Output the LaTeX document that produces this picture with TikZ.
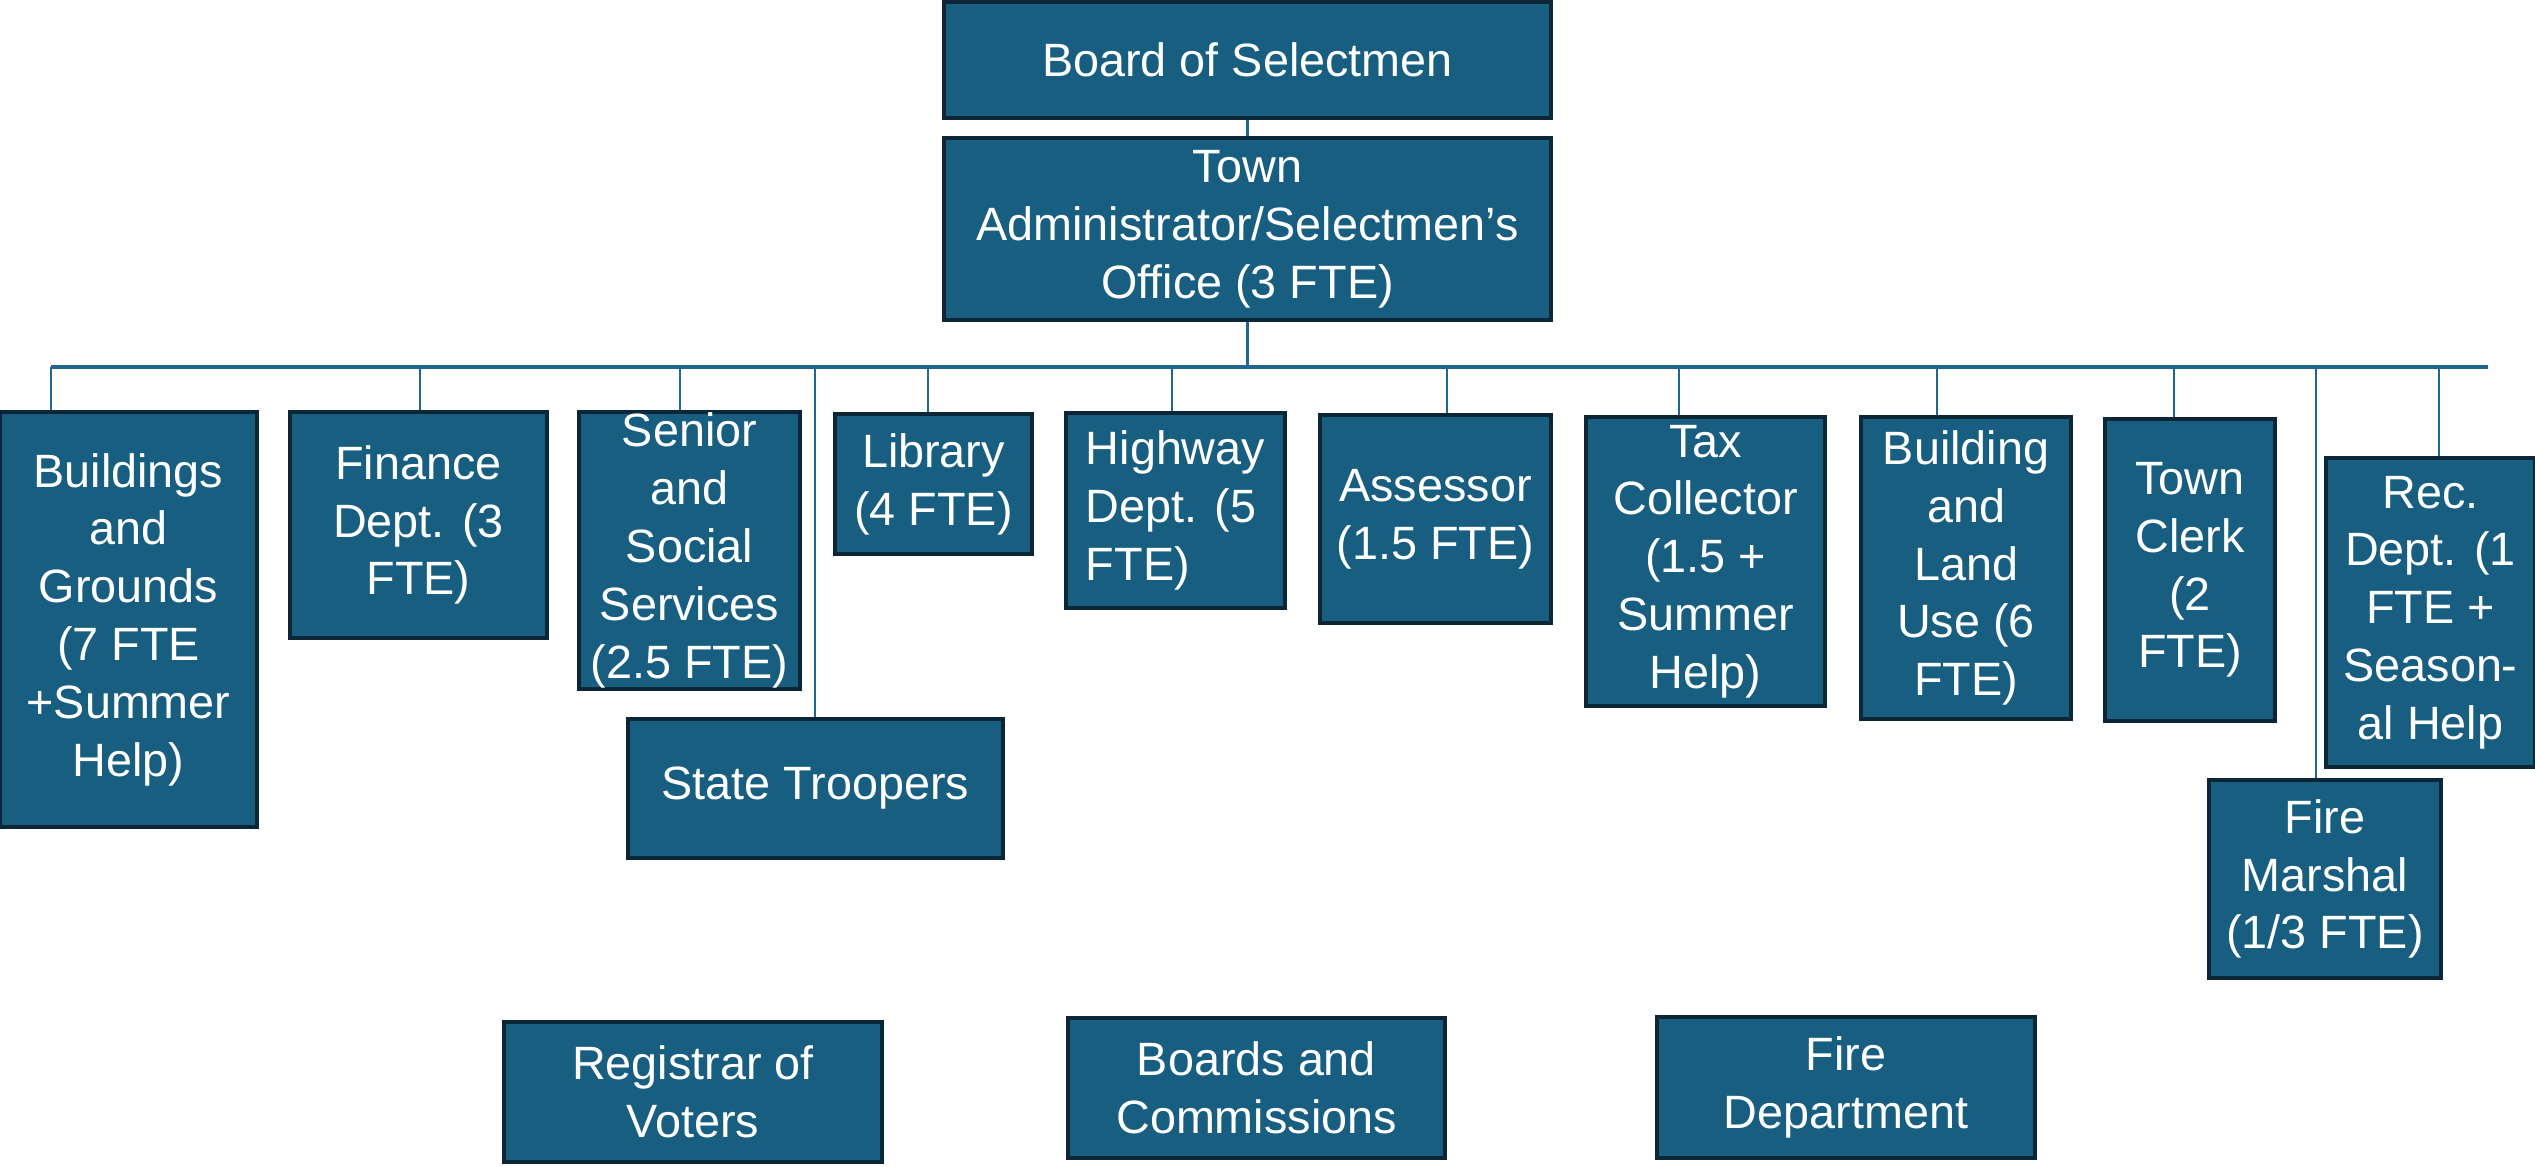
\documentclass[tikz,border=0pt]{standalone}
\usepackage{fontspec}
\setmainfont{Liberation Sans}
\definecolor{boxfill}{HTML}{175E80}
\definecolor{boxline}{HTML}{0B2636}
\definecolor{wirecol}{HTML}{1F6690}

\begin{document}
\begin{tikzpicture}
  [unit/.style={draw=boxline,fill=boxfill,text=white,line width=1.3pt,align=center,
    inner sep=0pt,font=\fontsize{13.3}{16.45}\selectfont},
  wire/.style={draw=wirecol,line width=0.8pt},
  bus/.style={draw=wirecol,line width=1.4pt}]
  \useasboundingbox (0,0) rectangle (25.35,-11.67);

  \node[unit,minimum width=6.07cm,minimum height=1.16cm] (board) at (12.475,-0.60) {Board of Selectmen};
  \node[unit,minimum width=6.07cm,minimum height=1.82cm] (admin) at (12.475,-2.29) {Town\\Administrator/Selectmen’s\\Office (3 FTE)};

  \node[unit,minimum width=2.57cm,minimum height=4.15cm] (bg) at (1.285,-6.195) {Buildings\\and\\Grounds\\(7 FTE\\+Summer\\Help)};
  \node[unit,minimum width=2.57cm,minimum height=2.26cm] (fin) at (4.185,-5.25) {Finance\\Dept. (3\\FTE)};
  \node[unit,minimum width=2.21cm,minimum height=2.77cm] (senior) at (6.895,-5.505) {Senior\\and\\Social\\Services\\(2.5 FTE)};
  \node[unit,minimum width=1.97cm,minimum height=1.40cm] (lib) at (9.335,-4.84) {Library\\(4 FTE)};
  \node[unit,align=left,minimum width=2.19cm,minimum height=1.95cm] (hwy) at (11.755,-5.105) {Highway\\Dept. (5\\FTE)};
  \node[unit,minimum width=3.75cm,minimum height=1.39cm] (troopers) at (8.155,-7.885) {State Troopers};
  \node[unit,minimum width=2.31cm,minimum height=2.08cm] (assessor) at (14.355,-5.19) {Assessor\\(1.5 FTE)};
  \node[unit,minimum width=2.39cm,minimum height=2.89cm] (tax) at (17.055,-5.615) {Tax\\Collector\\(1.5 +\\Summer\\Help)};
  \node[unit,minimum width=2.10cm,minimum height=3.02cm] (bldg) at (19.66,-5.68) {Building\\and\\Land\\Use (6\\FTE)};
  \node[unit,minimum width=1.70cm,minimum height=3.02cm] (clerk) at (21.90,-5.70) {Town\\Clerk\\(2\\FTE)};
  \node[unit,minimum width=2.09cm,minimum height=3.09cm] (rec) at (24.305,-6.125) {Rec.\\Dept. (1\\FTE +\\Season-\\al Help};
  \node[unit,minimum width=2.32cm,minimum height=1.98cm] (marshal) at (23.25,-8.79) {Fire\\Marshal\\(1/3 FTE)};

  % units with no line to the bus
  \node[unit,minimum width=3.78cm,minimum height=1.40cm] (registrar) at (6.93,-10.92) {Registrar of\\Voters};
  \node[unit,minimum width=3.77cm,minimum height=1.40cm] (boards) at (12.565,-10.88) {Boards and\\Commissions};
  \node[unit,minimum width=3.78cm,minimum height=1.41cm] (firedept) at (18.46,-10.875) {Fire\\Department};

  \coordinate (busL) at (0.51,-3.67);
  \coordinate (busR) at (24.88,-3.67);
  \draw[wire] (board) -- (admin);
  \draw[wire] (admin.south) -- (admin.south |- busL);
  \draw[bus] (busL) -- (busR);
  \foreach \n/\x in {bg/0.51,fin/4.20,senior/6.80,troopers/8.15,lib/9.28,hwy/11.72,
    assessor/14.47,tax/16.79,bldg/19.37,clerk/21.74,marshal/23.16,rec/24.39}
  {
    \coordinate (d\n) at (\x,-3.67);
    \draw[wire] (d\n) -- (d\n |- \n.north);
  }
\end{tikzpicture}
\end{document}
